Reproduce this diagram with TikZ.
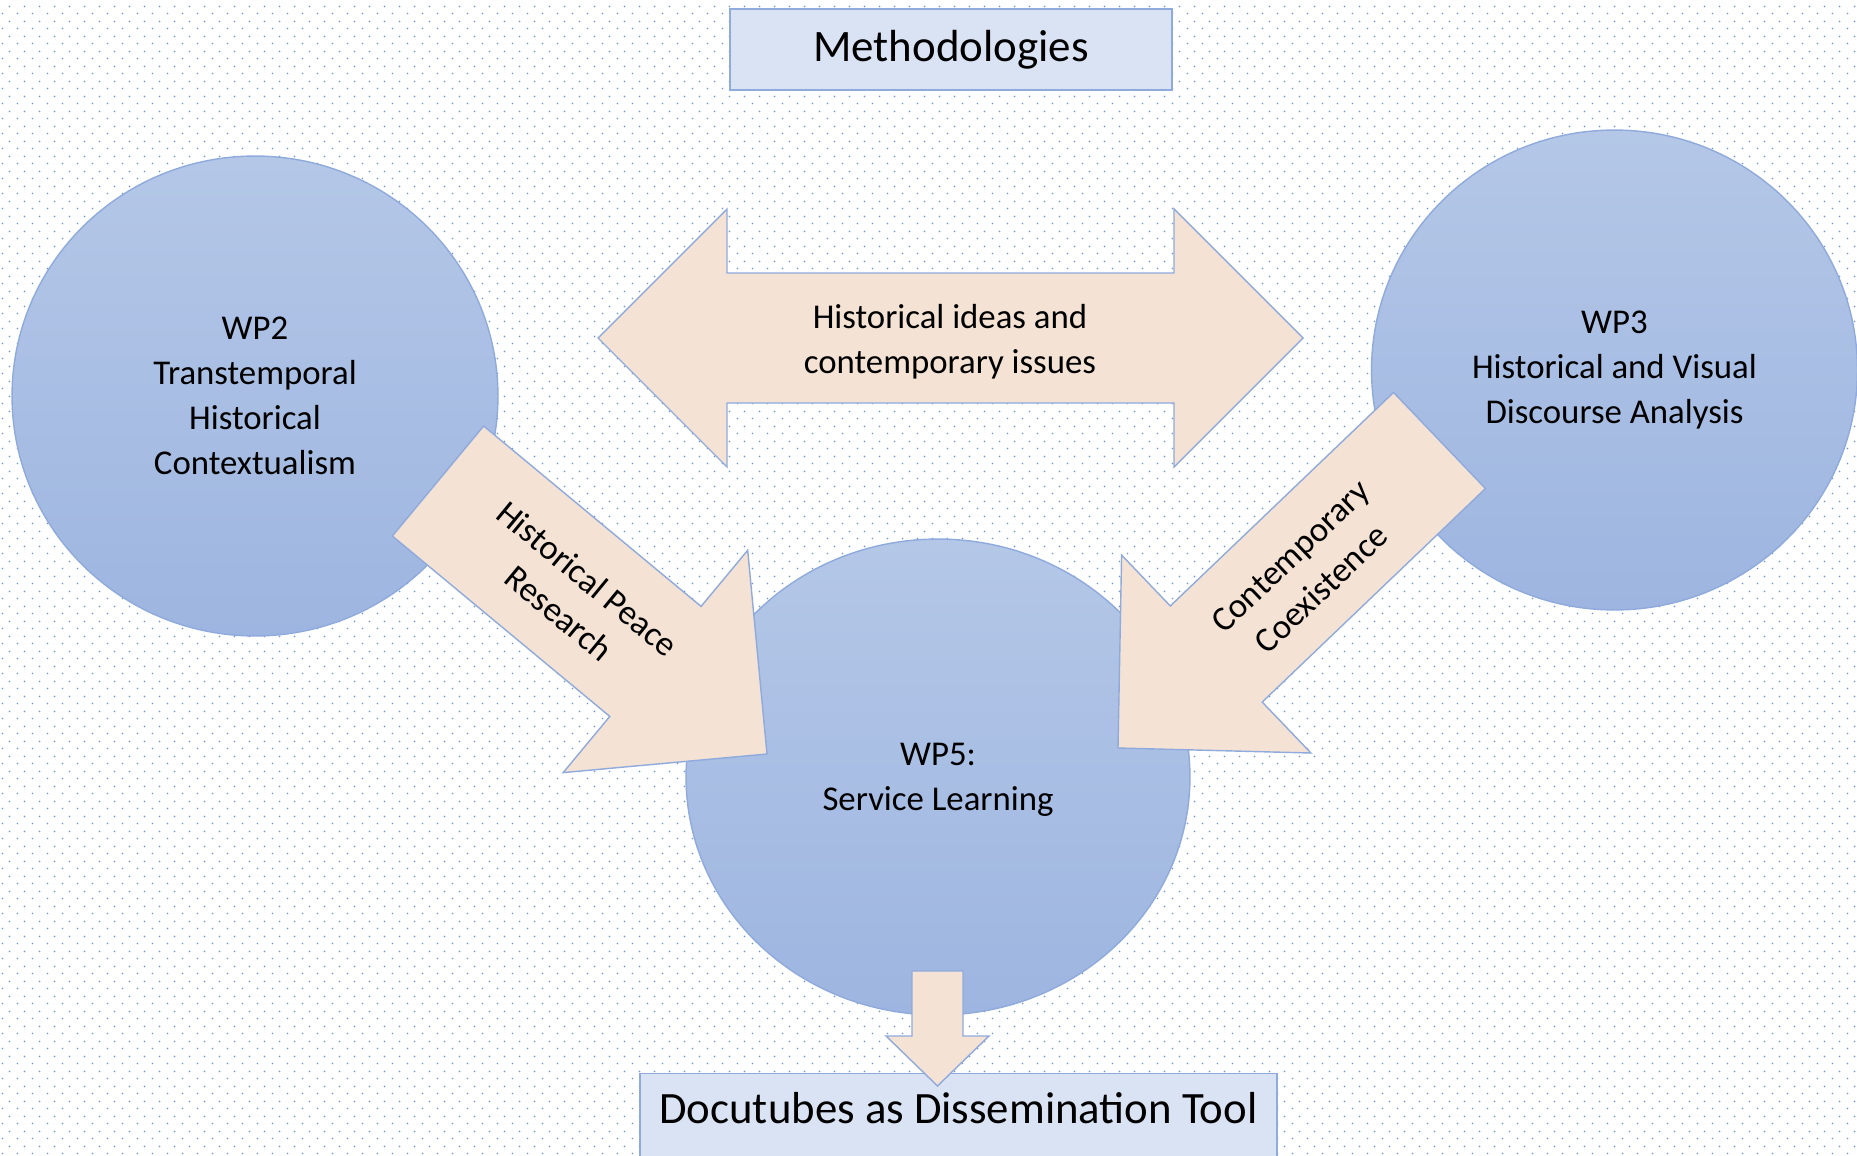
\documentclass[tikz,border=0pt]{standalone}
\usepackage{fontspec}
\setmainfont{Carlito}
\usetikzlibrary{calc,shapes.geometric,patterns.meta}

\definecolor{kreisoben}{HTML}{B4C7E7}
\definecolor{kreisunten}{HTML}{9DB5E0}
\definecolor{rand}{HTML}{8FAADC}
\definecolor{pfeilfarbe}{HTML}{F4E2D4}
\definecolor{kastenfarbe}{HTML}{DAE3F3}
\definecolor{punktfarbe}{HTML}{7094D4}

% Das gepunktete Hintergrundmuster (versetzte Punkte, Abstand 15px):
\tikzdeclarepattern{
  name=punkte,
  type=uncolored,
  bottom left={(0pt,0pt)},
  top right={(8.54pt,8.54pt)},
  tile size={(8.54pt,8.54pt)},
  code={
    \fill (2.135pt,2.135pt) circle (0.55pt);
    \fill (6.405pt,6.405pt) circle (0.55pt);
  }
}

\tikzset{
  kreis/.style={ellipse, draw=rand, line width=0.8pt, top color=kreisoben,
    bottom color=kreisunten, inner sep=0pt, align=center,
    font=\fontsize{19.8}{25.6}\selectfont},
  pfeil/.style={draw=rand, line width=0.8pt, fill=pfeilfarbe},
  kasten/.style={draw=rand, line width=0.8pt, fill=kastenfarbe, inner sep=0pt},
  schrift/.style={align=center, font=\fontsize{19.8}{25.6}\selectfont},
}

% Blockpfeil: #1 Anfang, #2 Spitze, #3 halbe Schaftbreite, #4 halbe Kopfbreite, #5 Kopflaenge
\newcommand{\blockpfeil}[5]{%
  \coordinate (kopf) at ($(#2)!#5!(#1)$);
  \draw[pfeil] ($(#1)!#3!90:(#2)$) -- ($(kopf)!#3!90:(#2)$) -- ($(kopf)!#4!90:(#2)$)
    -- (#2) -- ($(kopf)!#4!-90:(#2)$) -- ($(kopf)!#3!-90:(#2)$) -- ($(#1)!#3!-90:(#2)$) -- cycle;
}

\begin{document}
\begin{tikzpicture}[x=0.02cm, y=-0.02cm]
    % Einheit = ein Pixel des Originals, y zeigt nach unten
    \useasboundingbox (0,0) rectangle (1857,1156);
    \clip (0,0) rectangle (1857,1156);
    \fill[white] (0,0) rectangle (1857,1156);
    \fill[pattern=punkte, pattern color=punktfarbe] (0,0) rectangle (1857,1156);

    % Die drei Kreise (eigentlich Ellipsen, der mittlere ist etwas breiter):
    \node[kreis, minimum width=9.72cm, minimum height=9.6cm] (wp2) at (255,396)
        {WP2\\Transtemporal\\Historical\\Contextualism};
    \node[kreis, minimum width=9.72cm, minimum height=9.6cm] (wp3) at (1614.5,370)
        {WP3\\Historical and Visual\\Discourse Analysis};
    \node[kreis, minimum width=10.08cm, minimum height=9.52cm, text depth=0pt] (wp5) at (938,777)
        {WP5:\\Service Learning};

    % Die beiden Kaesten oben und unten; der untere wird vom Bildrand abgeschnitten:
    \node[kasten, minimum width=8.84cm, minimum height=1.62cm,
        font=\fontsize{25.6}{30}\selectfont] (meth) at (951,49.5) {Methodologies};
    \node[kasten, minimum width=12.74cm, minimum height=2.2cm, anchor=north] (tool) at (958.5,1073) {};
    \node[anchor=base, font=\fontsize{25.5}{30}\selectfont] (tooltext) at (958.5,1123)
        {Docutubes as Dissemination Tool};

    % Der Doppelpfeil in der Mitte:
    \coordinate (links) at (598,338);
    \coordinate (rechts) at (1303,338);
    \draw[pfeil] (links) -- ++(129,-129) -- ++(0,64) -- ++(447,0) -- ++(0,-64) -- (rechts)
        -- ++(-129,129) -- ++(0,-64) -- ++(-447,0) -- ++(0,64) -- cycle;
    \node[schrift] (ideen) at (950,341.5) {Historical ideas and\\contemporary issues};

    % Die schraegen Pfeile in den mittleren Kreis und der kleine nach unten:
    \coordinate (hpr-a) at (438,481);
    \coordinate (hpr-b) at (767,754);
    \blockpfeil{hpr-a}{hpr-b}{1.43cm}{2.89cm}{2.9cm}
    \coordinate (cc-a) at (1439.5,440.5);
    \coordinate (cc-b) at (1118,748);
    \blockpfeil{cc-a}{cc-b}{1.33cm}{2.74cm}{2.72cm}
    \coordinate (dt-a) at (937.5,971);
    \coordinate (dt-b) at (937.5,1086);
    \blockpfeil{dt-a}{dt-b}{0.51cm}{1.03cm}{1cm}

    \node[schrift, rotate=-39.5] (hpr) at (573.5,596) {Historical Peace\\Research};
    \node[schrift, rotate=43.5] (cc) at (1306,572.5) {Contemporary\\Coexistence};
\end{tikzpicture}
\end{document}
